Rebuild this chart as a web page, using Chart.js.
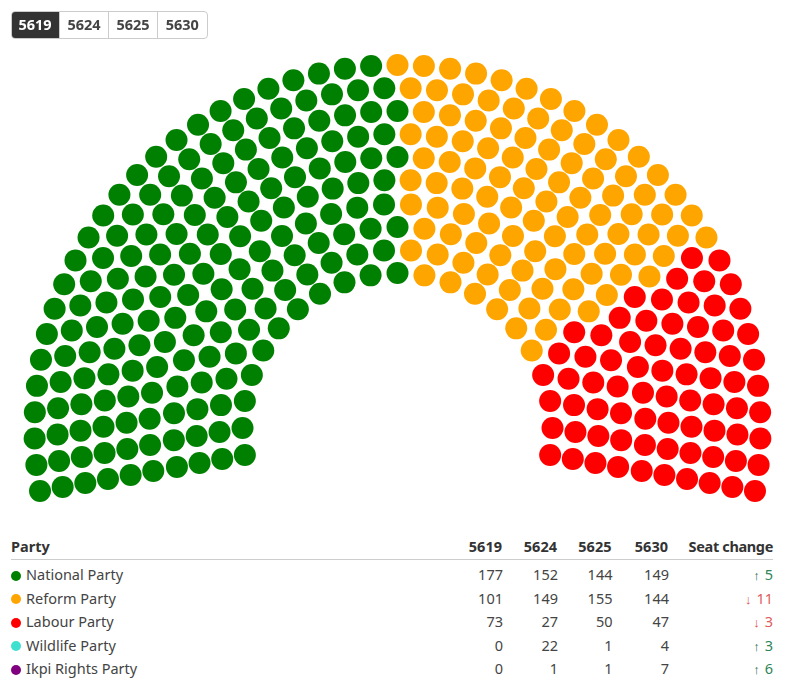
<!DOCTYPE html>
<html><head><meta charset="utf-8">
<script src="https://cdn.jsdelivr.net/npm/chart.js@4"></script>
<style>
html,body{margin:0;padding:0;background:#fff;}
body{width:794px;height:689px;position:relative;overflow:hidden;font-family:"Noto Sans",sans-serif;color:#444;}
#seats{position:absolute;left:0;top:0;}
#tabs{position:absolute;left:11px;top:11px;display:flex;border:1px solid #ccc;border-radius:4px;overflow:hidden;height:26px;box-sizing:content-box;}
#tabs div{width:48px;text-align:center;font-size:14.5px;font-weight:700;line-height:25px;color:#444;border-left:1px solid #ccc;}
#tabs div:first-child{background:#333;color:#fff;border-left:none;margin:-1px 0 -1px -1px;line-height:27px;width:48px;}
#tabs div:last-child{width:48.5px;}
table{position:absolute;left:11px;top:535px;width:762px;border-collapse:collapse;table-layout:fixed;font-size:14.5px;}
th{font-weight:700;color:#333;height:24px;padding:0 1px 2px 0;box-sizing:border-box;border-bottom:1px solid #ccc;text-align:right;white-space:nowrap;}
th:last-child{padding-right:0;letter-spacing:-0.35px;}
th:first-child,td:first-child{text-align:left;}
td{height:23.5px;padding:0;text-align:right;white-space:nowrap;position:relative;top:3px;}
.dot{display:inline-block;width:10px;height:10px;border-radius:50%;margin-right:5px;vertical-align:-0.5px;}
.up{color:#2f8558}.down{color:#e05c5c}
.arrow{font-size:13px;margin-right:5px;font-family:"Liberation Sans",sans-serif;}
.up .arrow{color:#1c6b42}.down .arrow{color:#d94f4f}
</style></head><body>
<canvas id="seats" width="794" height="520" style="width:794px;height:520px"></canvas>
<div id="tabs"></div>
<table id="tbl"></table>
<script>
const years=["5619","5624","5625","5630"];
const parties=["National Party","Reform Party","Labour Party","Wildlife Party","Ikpi Rights Party"];
const partyColors=["#008000","#FFA500","#FF0000","#40E0D0","#800080"];
const seats5619=[177,101,73,0,0];
const seats5624=[152,149,27,22,1];
const seats5625=[144,155,50,1,1];
const seats5630=[149,144,47,4,7];
const seatChange=[5,-11,-3,3,6];
const seatsPerRow=[21,24,27,30,34,37,40,43,46,49];
const rowRadii=[155,178,201,224,248,271,294,317,340,363];

// Seats ordered left to right around the arc, then shared out by party.
const arcDegrees=200;
const seatList=[];
seatsPerRow.forEach((n,row)=>{
  for(let i=0;i<n;i++){
    const t=i/(n-1);
    seatList.push({t,row,a:(190-t*arcDegrees)*Math.PI/180});
  }
});
seatList.sort((p,q)=>(Math.abs(p.t-q.t)<1e-9?p.row-q.row:p.t-q.t));
let cursor=0;
const datasets=parties.map((name,k)=>{
  const data=seatList.slice(cursor,cursor+seats5619[k]).map(s=>({
    x:rowRadii[s.row]*Math.cos(s.a),y:rowRadii[s.row]*Math.sin(s.a)}));
  cursor+=seats5619[k];
  return {label:name,data,backgroundColor:partyColors[k],borderWidth:0,pointRadius:11,pointHoverRadius:11};
});
new Chart(document.getElementById('seats'),{
  type:'scatter',
  data:{datasets},
  options:{responsive:false,animation:false,clip:false,
    layout:{padding:0,autoPadding:false},
    plugins:{legend:{display:false},tooltip:{enabled:false}},
    scales:{x:{display:false,min:-397.5,max:396.5},y:{display:false,min:-92,max:428}}
  }
});
document.getElementById('tabs').innerHTML=years.map(y=>`<div>${y}</div>`).join('');
const allSeats=[seats5619,seats5624,seats5625,seats5630];
let html='<colgroup><col style="width:440px"><col style="width:52px"><col style="width:55px"><col style="width:54.5px"><col style="width:56.5px"><col style="width:104px"></colgroup>';
html+='<tr><th>Party</th>'+years.map(y=>`<th>${y}</th>`).join('')+'<th>Seat change</th></tr>';
parties.forEach((p,k)=>{
  const c=seatChange[k];
  html+=`<tr><td><span class="dot" style="background:${partyColors[k]}"></span>${p}</td>`+
    allSeats.map(a=>`<td>${a[k]}</td>`).join('')+
    `<td class="${c>0?'up':'down'}"><span class="arrow">${c>0?'↑':'↓'}</span>${Math.abs(c)}</td></tr>`;
});
document.getElementById('tbl').innerHTML=html;
</script>
</body></html>
